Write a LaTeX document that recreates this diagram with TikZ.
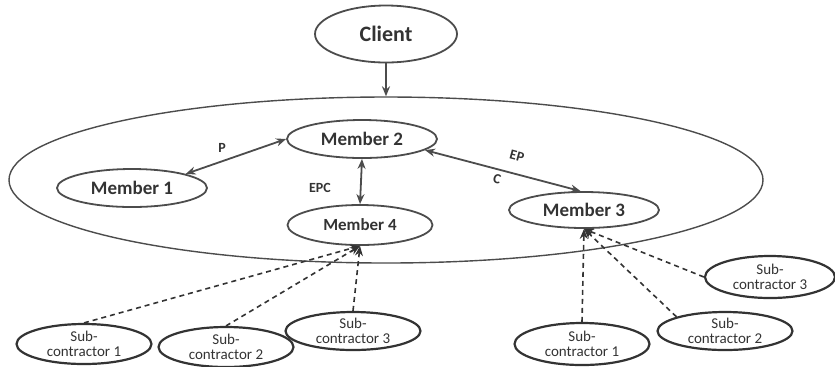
\documentclass[tikz,border=0pt]{standalone}
\usepackage{fontspec}
\setmainfont{Carlito}
\usetikzlibrary{shapes.geometric, arrows.meta, positioning}

\begin{document}
\begin{tikzpicture}[
  x=0.5pt, y=-0.5pt,
  every node/.style={font=\bfseries, text=black!80},
  oval/.style={draw=black!70, ellipse, line width=0.9pt, inner sep=0pt},
  member/.style={oval, minimum width=75pt, minimum height=19pt, font=\bfseries\fontsize{9.5}{11}\selectfont},
  sub/.style={oval, draw=black!80, line width=1.1pt, minimum width=67.5pt, minimum height=20pt, align=center, font=\fontsize{7.5}{7.5}\selectfont},
  lbl/.style={font=\bfseries\fontsize{7}{8}\selectfont},
  link/.style={{Stealth[length=5pt,width=4pt]}-{Stealth[length=5pt,width=4pt]}, draw=black!70, line width=0.9pt},
  dep/.style={-{Stealth[length=5pt,width=4pt]}, dash pattern=on 2.5pt off 2pt, draw=black!80, line width=0.8pt}
]
\useasboundingbox (0,0) rectangle (835,366);

% Nodes
\node[oval, minimum width=71pt, minimum height=28.5pt, font=\bfseries\fontsize{11}{13}\selectfont] (client) at (386,34) {Client};
\node[oval, line width=0.7pt, minimum width=377pt, minimum height=83pt] (team) at (386,180) {};
\node[member] (m2) at (362,139) {Member 2};
\node[member] (m1) at (132,188) {Member 1};
\node[member, minimum width=72.5pt, minimum height=20pt, font=\bfseries\fontsize{8.5}{10}\selectfont] (m4) at (360,225) {Member 4};
\node[member, minimum height=18pt] (m3) at (584,210) {Member 3};

% Sub-contractors of Member 4
\node[sub] (ls1) at (84,344) {Sub-\\contractor 1};
\node[sub] (ls2) at (226,347) {Sub-\\contractor 2};
\node[sub, minimum height=19pt] (ls3) at (353,331) {Sub-\\contractor 3};

% Sub-contractors of Member 3
\node[sub, minimum height=21pt] (rs1) at (582,344) {Sub-\\contractor 1};
\node[sub, minimum height=19pt] (rs2) at (725,331) {Sub-\\contractor 2};
\node[sub, minimum width=65pt, minimum height=21pt] (rs3) at (770,277) {Sub-\\contractor 3};

% Arrows
\draw[-{Stealth[length=5pt,width=4pt]}, draw=black!70, line width=0.9pt] (client.south) -- (team.north);
\draw[link] (m1.north east) -- (m2.west);
\draw[link] (m2.south) -- (m4.north);
\draw[link] (m2.-10) -- (m3.100);

\draw[dep] (ls1.north) -- (m4.south);
\draw[dep] (ls2.north) -- (m4.south);
\draw[dep] (ls3.north) -- (m4.south);
\draw[dep] (rs1.north) -- (m3.south);
\draw[dep] (rs2.north west) -- (m3.south);
\draw[dep] (rs3.west) -- (m3.south);

% Labels
\node[lbl] (lp) at (222,148) {P};
\node[lbl] (lepc) at (320,188) {EPC};
\node[lbl, rotate=-15] (lep) at (517,156) {EP};
\node[lbl, rotate=-15] (lc) at (497,179) {C};
\end{tikzpicture}
\end{document}
